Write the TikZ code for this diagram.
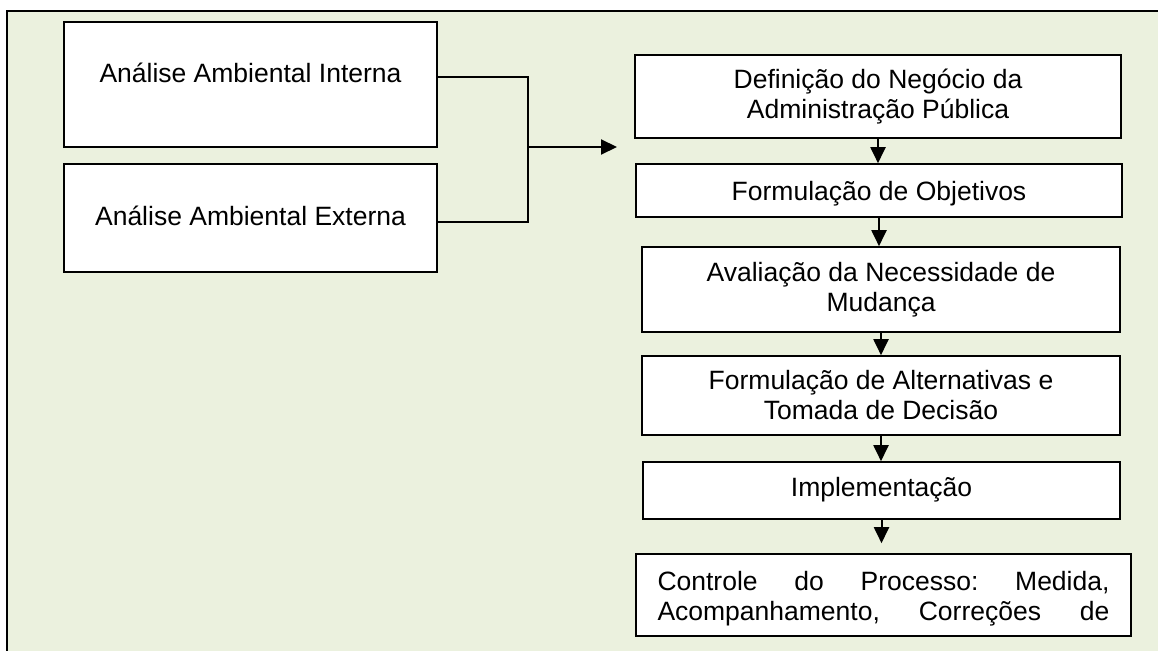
\documentclass[tikz,border=0pt]{standalone}
\usepackage{fontspec}
\setmainfont{Liberation Sans}
\usetikzlibrary{arrows.meta}
\definecolor{panelgreen}{RGB}{235,241,222}

\begin{document}
\begin{tikzpicture}[>={Triangle[length=16pt,width=15pt]}, x=1pt, y=-1pt,
    box/.style={draw, fill=white, line width=1.6pt, inner ysep=0pt, font=\fontsize{26.5}{30}\selectfont},
    line/.style={line width=2pt},
    link/.style={line width=2pt, ->}]
    \useasboundingbox (0,0) rectangle (1158,650);
    \draw[line width=1.4pt, fill=panelgreen] (7,11) rectangle (1175,670);
    \node[box, anchor=base, minimum width=373pt, text height=61pt, text depth=64pt] (interna) at (250.5,83) {Análise Ambiental Interna};
    \node[box, anchor=base, minimum width=373pt, text height=61pt, text depth=47pt] (externa) at (250.5,225) {Análise Ambiental Externa};
    \node[box, align=center, minimum width=486pt, minimum height=83pt] (defin) at (878,96.5) {Definição do Negócio da\\Administração Pública};
    \node[box, anchor=base, minimum width=486pt, text height=36pt, text depth=17pt] (formobj) at (879,200) {Formulação de Objetivos};
    \node[box, align=center, minimum width=478pt, minimum height=85pt] (avalia) at (881,289.5) {Avaliação da Necessidade de\\Mudança};
    \node[box, align=center, minimum width=478pt, minimum height=79pt] (altern) at (881,395.5) {Formulação de Alternativas e\\Tomada de Decisão};
    \node[box, anchor=base, minimum width=477pt, text height=34pt, text depth=23pt] (implem) at (881.5,496) {Implementação};
    \node[box, minimum width=495pt, minimum height=82pt, text width=452pt, text height=36pt, text depth=46pt, anchor=base] (controle) at (883.5,590) {\noindent Controle\hfill do\hfill Processo:\hfill Medida,\\Acompanhamento,\hfill Correções\hfill de};
    \coordinate (join) at (528,147);
    \coordinate (tip) at (617,147);
    \draw[line] ([yshift=7.5pt]interna.east) -| (join);
    \draw[line] ([yshift=-4pt]externa.east) -| (join);
    \draw[link] (join) -- (tip);
    \draw[link] (defin.south) -- (defin.south |- formobj.north);
    \draw[link] (formobj.south) -- (formobj.south |- avalia.north);
    \draw[link] (avalia.south) -- (avalia.south |- altern.north);
    \draw[link] (altern.south) -- (altern.south |- implem.north);
    \draw[link, shorten >=10pt] (implem.south) -- (implem.south |- controle.north);
\end{tikzpicture}
\end{document}
